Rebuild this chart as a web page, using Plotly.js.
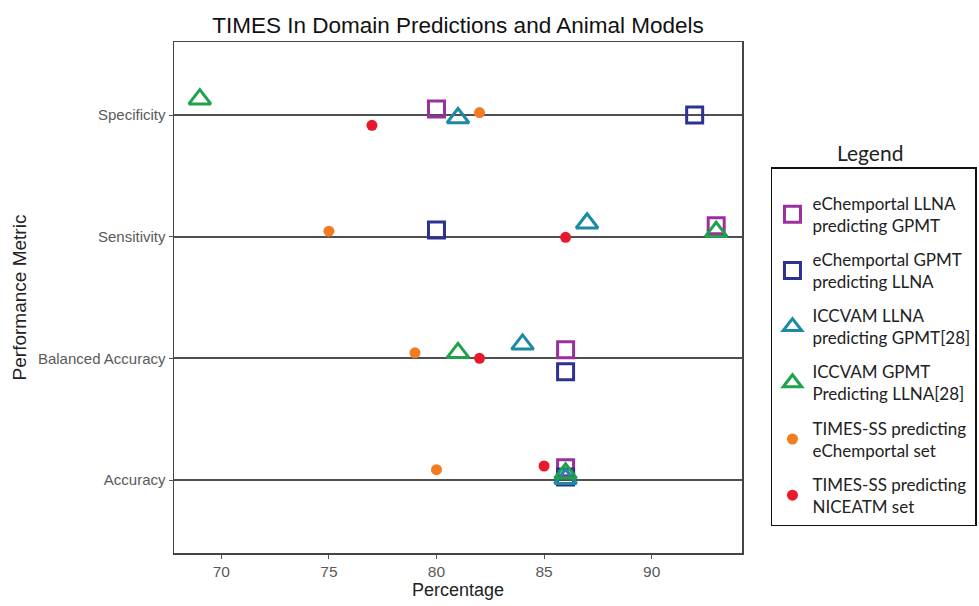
<!DOCTYPE html>
<html>
<head>
<meta charset="utf-8">
<script src="https://cdn.plot.ly/plotly-3.0.1.min.js"></script>
<style>html,body{margin:0;padding:0;background:#fff;}#chart{width:979px;height:606px;}</style>
</head>
<body>
<div id="chart"></div>
<script>
// Metric categories, bottom to top
var metrics = ['Accuracy', 'Balanced Accuracy', 'Sensitivity', 'Specificity'];
var xTicks = [70, 75, 80, 85, 90];

// Series names (legend labels)
var seriesNames = [
  'eChemportal LLNA<br>predicting GPMT',
  'eChemportal GPMT<br>predicting LLNA',
  'ICCVAM LLNA<br>predicting GPMT[28]',
  'ICCVAM GPMT<br>Predicting LLNA[28]',
  'TIMES-SS predicting<br>eChemportal set',
  'TIMES-SS predicting<br>NICEATM set'
];

// Percentages per metric (Accuracy, Balanced Accuracy, Sensitivity, Specificity)
var echemLLNA   = [86, 86, 93, 80];
var echemGPMT   = [86, 86, 80, 92];
var iccvamLLNA  = [86, 84, 87, 81];
var iccvamGPMT  = [86, 81, 93, 69];
var timesEchem  = [80, 79, 75, 82];
var timesNiceatm= [85, 82, 86, 77];

// Vertical jitter (in category units)
var jitEchemLLNA   = [0.10, 0.07, 0.09, 0.05];
var jitEchemGPMT   = [0.025, -0.11, 0.055, 0.0];
var jitIccvamLLNA  = [0.01, 0.115, 0.11, -0.025];
var jitIccvamGPMT  = [0.055, 0.045, 0.04, 0.13];
var jitTimesEchem  = [0.085, 0.045, 0.045, 0.02];
var jitTimesNiceatm= [0.115, 0.0, -0.005, -0.085];

var values = [echemLLNA, echemGPMT, iccvamLLNA, iccvamGPMT, timesEchem, timesNiceatm];
var jitters = [jitEchemLLNA, jitEchemGPMT, jitIccvamLLNA, jitIccvamGPMT, jitTimesEchem, jitTimesNiceatm];

var styles = [
  {symbol: 'square-open', color: '#9a2f9f', size: 16, lw: 3},
  {symbol: 'square-open', color: '#2d3192', size: 16, lw: 3},
  {symbol: 'triangle-up-open', color: '#1b8aa3', size: 19, lw: 3},
  {symbol: 'triangle-up-open', color: '#1fa24a', size: 19, lw: 3},
  {symbol: 'circle', color: '#f47c20', size: 11, lw: 0},
  {symbol: 'circle', color: '#e8192c', size: 11, lw: 0}
];

var traces = values.map(function (vals, i) {
  var st = styles[i];
  return {
    type: 'scatter',
    mode: 'markers',
    name: seriesNames[i],
    legendgroup: 'g' + i,
    x: vals,
    y: metrics.map(function (m, k) { return k + 1 + jitters[i][k]; }),
    text: metrics,
    hovertemplate: '%{text}: %{x}%<extra></extra>',
    marker: {
      symbol: st.symbol,
      size: st.size,
      color: st.color,
      line: {color: st.color, width: st.lw}
    },
    cliponaxis: false
  };
});

var layout = {
  width: 979,
  height: 606,
  paper_bgcolor: '#ffffff',
  plot_bgcolor: '#ffffff',
  margin: {l: 174, r: 237, t: 42, b: 53, autoexpand: false},
  font: {family: 'Liberation Sans, Arial, sans-serif', color: '#222'},
  title: {
    text: 'TIMES In Domain Predictions and Animal Models',
    font: {size: 22.5, color: '#111', family: 'Liberation Sans, Arial, sans-serif'},
    x: 0.5, xref: 'paper', xanchor: 'center',
    y: 0.958, yref: 'container', yanchor: 'middle'
  },
  xaxis: {
    range: [67.8, 94.2],
    tickvals: xTicks,
    ticktext: xTicks.map(String),
    ticks: 'outside', ticklen: 4, tickcolor: '#555', tickwidth: 1,
    tickfont: {size: 15.5, color: '#5a5a5a'},
    showgrid: false, zeroline: false,
    showline: true, mirror: true, linecolor: '#444', linewidth: 1.5,
    title: {text: 'Percentage', font: {size: 18, color: '#222'}, standoff: 4}
  },
  yaxis: {
    range: [0.4, 4.6],
    tickvals: [1, 2, 3, 4],
    ticktext: metrics,
    ticks: 'outside', ticklen: 4, tickcolor: '#555', tickwidth: 1,
    tickfont: {size: 15, color: '#5a5a5a'},
    showgrid: true, gridcolor: '#4f4f4f', gridwidth: 2,
    zeroline: false,
    showline: true, mirror: true, linecolor: '#444', linewidth: 1.5,
    title: {text: 'Performance Metric', font: {size: 19, color: '#222'}, standoff: 6}
  },
  showlegend: true,
  legend: {
    x: 1.051, xanchor: 'left',
    y: 0.755, yanchor: 'top',
    bordercolor: '#111', borderwidth: 1.5,
    bgcolor: '#ffffff',
    font: {family: 'Lato, Carlito, sans-serif', size: 17, color: '#222'},
    title: {text: ' ', font: {size: 13}},
    traceorder: 'grouped',
    tracegroupgap: 9,
    itemsizing: 'trace'
  },
  annotations: [{
    text: 'Legend',
    xref: 'paper', yref: 'paper',
    x: 1.225, y: 0.783,
    xanchor: 'center', yanchor: 'middle',
    showarrow: false,
    font: {family: 'Lato, Carlito, sans-serif', size: 21, color: '#222'}
  }]
};

Plotly.newPlot('chart', traces, layout, {displayModeBar: false, staticPlot: true});
</script>
</body>
</html>
